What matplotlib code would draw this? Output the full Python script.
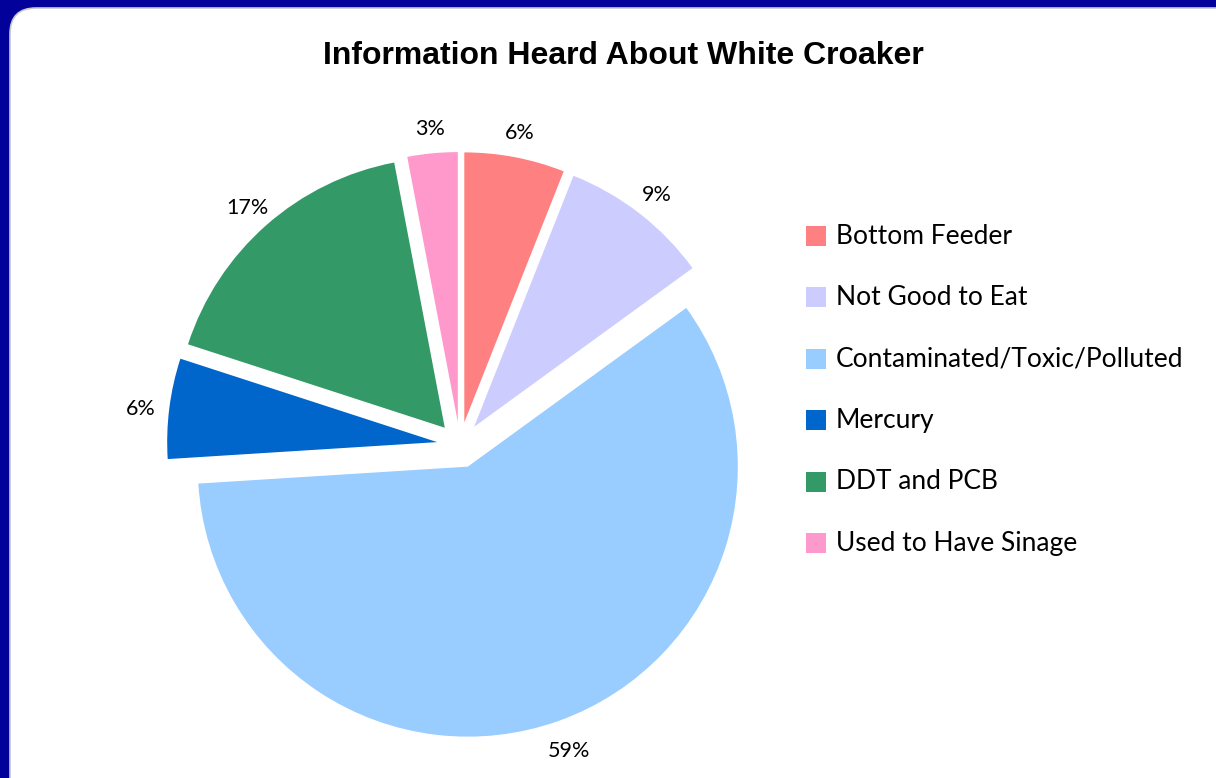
import matplotlib.pyplot as plt
from matplotlib.patches import FancyBboxPatch, Rectangle

# data
labels = ['Bottom Feeder', 'Not Good to Eat', 'Contaminated/Toxic/Polluted',
          'Mercury', 'DDT and PCB', 'Used to Have Sinage']
shares = [6, 9, 59, 6, 17, 3]
colors = ['#FF8080', '#CCCCFF', '#99CCFF', '#0066CC', '#339966', '#FF99CC']
title = 'Information Heard About White Croaker'

W, H = 1216, 778
fig = plt.figure(figsize=(W / 100, H / 100), dpi=100)
fig.patch.set_facecolor('#02029A')

# one axes over the whole figure, in pixel units (y up)
ax = fig.add_axes([0, 0, 1, 1])

panel = FancyBboxPatch((10, -40), 1250, H - 8 + 40,
                       boxstyle='round,pad=0,rounding_size=26',
                       facecolor='white', edgecolor='#C8C8C8', linewidth=1.2)
ax.add_patch(panel)

wedges, texts, autotexts = ax.pie(
    shares, colors=colors, startangle=90, counterclock=False,
    explode=[23] * len(shares), radius=270, center=(460, 333),
    autopct=lambda p: '%d%%' % round(p), pctdistance=1.105, frame=True,
    wedgeprops=dict(linewidth=0),
    textprops=dict(fontsize=15.5, family='Lato', color='black'))

# labels sit a little lower in the original
for t in autotexts:
    x, y = t.get_position()
    t.set_position((x, y - 4))

ax.set_xlim(0, W)
ax.set_ylim(0, H)
ax.set_aspect('equal')
ax.axis('off')

ax.text(623, H - 56, title, ha='center', va='center', fontsize=23,
        fontweight='bold', family='Liberation Sans')

# legend on the right
for i, (lab, col) in enumerate(zip(labels, colors)):
    y = H - (236 + i * 61.4)
    ax.add_patch(Rectangle((806, y - 10), 20, 20, facecolor=col, edgecolor='none'))
    ax.text(836, y, lab, ha='left', va='center', fontsize=19, family='Lato')

fig.savefig('out.png', dpi=100, facecolor=fig.get_facecolor())
